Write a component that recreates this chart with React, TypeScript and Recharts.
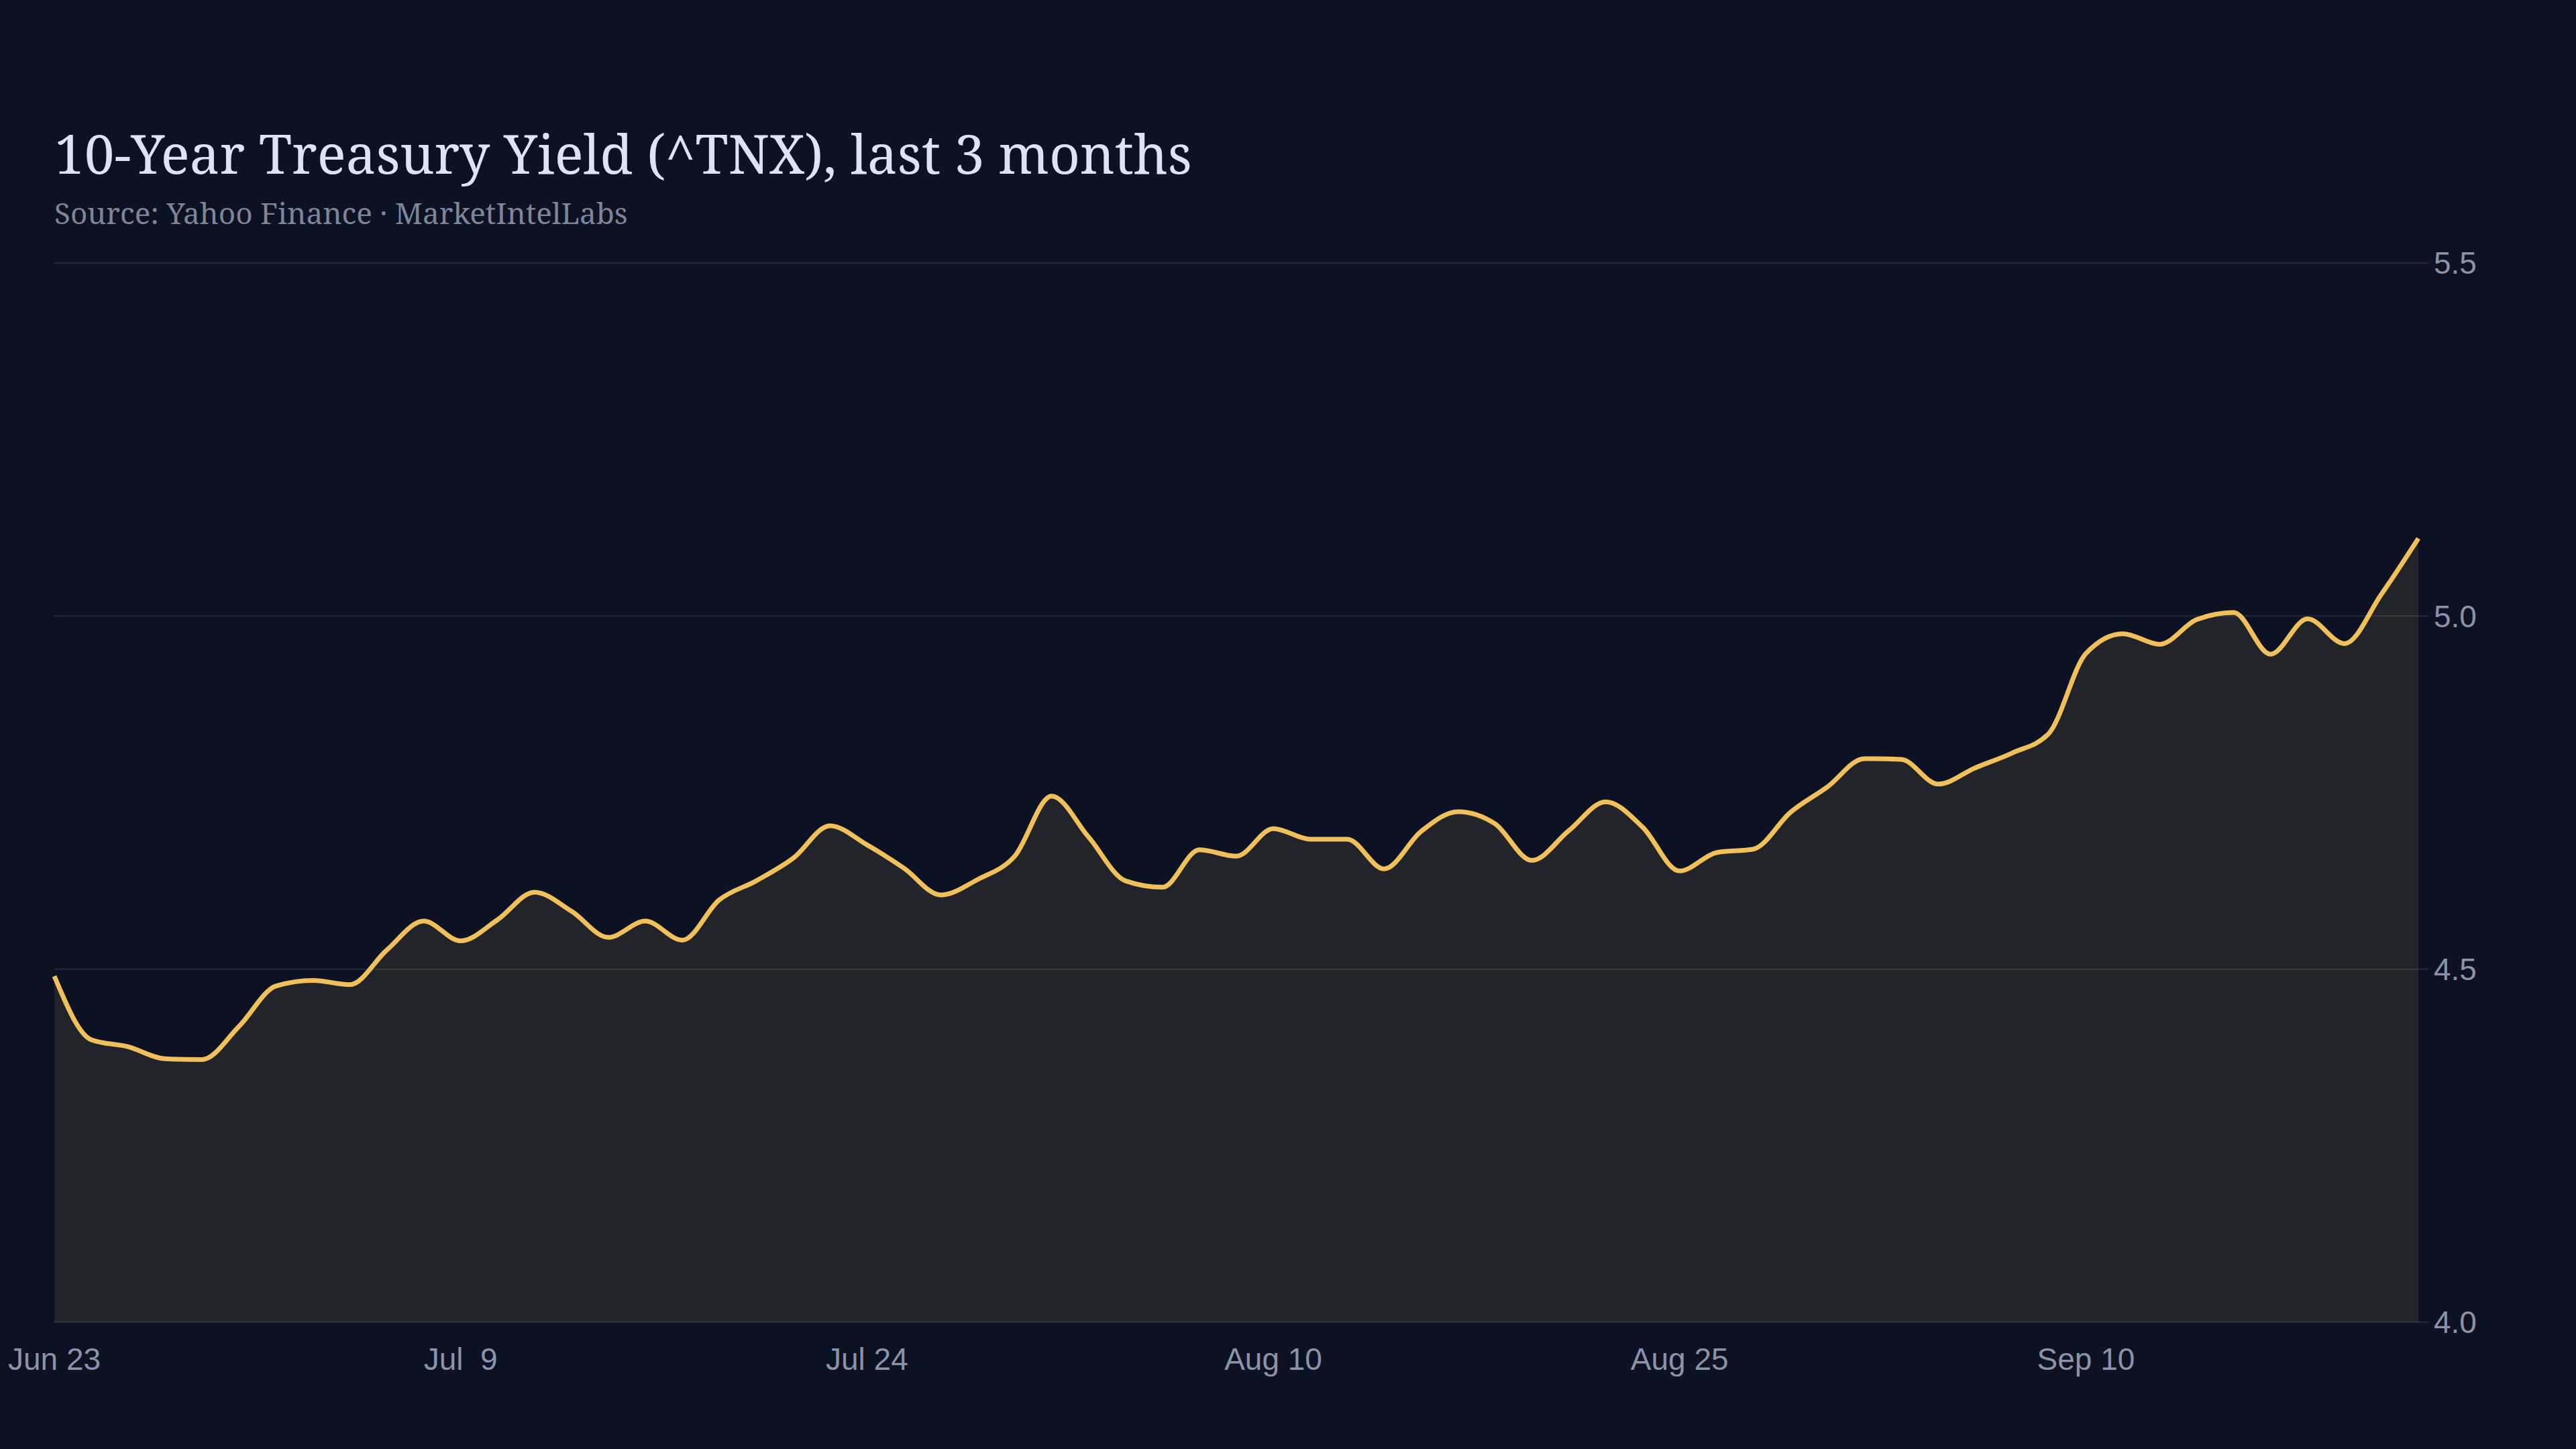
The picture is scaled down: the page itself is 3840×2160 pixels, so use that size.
import React from 'react';
import { AreaChart, Area, XAxis, YAxis, CartesianGrid } from 'recharts';

const dates: string[] = [
  'Jun 23', 'Jun 24', 'Jun 25', 'Jun 26', 'Jun 27', 'Jun 30', 'Jul  1', 'Jul  2', 'Jul  3', 'Jul  7', 'Jul  8',
  'Jul  9', 'Jul 10', 'Jul 11', 'Jul 14', 'Jul 15', 'Jul 16', 'Jul 17', 'Jul 18', 'Jul 21', 'Jul 22', 'Jul 23',
  'Jul 24', 'Jul 25', 'Jul 28', 'Jul 29', 'Jul 30', 'Jul 31', 'Aug  1', 'Aug  4', 'Aug  5', 'Aug  6', 'Aug  7',
  'Aug 10', 'Aug 11', 'Aug 12', 'Aug 13', 'Aug 14', 'Aug 15', 'Aug 18', 'Aug 19', 'Aug 20', 'Aug 21', 'Aug 22',
  'Aug 25', 'Aug 26', 'Aug 27', 'Aug 28', 'Aug 29', 'Sep  2', 'Sep  3', 'Sep  4', 'Sep  5', 'Sep  8', 'Sep  9',
  'Sep 10', 'Sep 11', 'Sep 12', 'Sep 15', 'Sep 16', 'Sep 17', 'Sep 18', 'Sep 19', 'Sep 22', 'Sep 23',
];

const yields: number[] = [
  4.49, 4.40, 4.39, 4.373, 4.372, 4.419, 4.476, 4.484, 4.478, 4.527, 4.568,
  4.540, 4.570, 4.609, 4.582, 4.545, 4.568, 4.541, 4.598, 4.625, 4.657, 4.703,
  4.676, 4.643, 4.605, 4.627, 4.660, 4.745, 4.687, 4.625, 4.616, 4.669, 4.660,
  4.699, 4.684, 4.684, 4.642, 4.695, 4.723, 4.706, 4.654, 4.696, 4.737, 4.701,
  4.639, 4.665, 4.670, 4.722, 4.758, 4.798, 4.797, 4.762, 4.785, 4.806, 4.834,
  4.947, 4.975, 4.960, 4.995, 5.005, 4.946, 4.996, 4.961, 5.031, 5.110,
];

const xTickLabels: string[] = ['Jun 23', 'Jul  9', 'Jul 24', 'Aug 10', 'Aug 25', 'Sep 10'];
const yTicks: number[] = [4.0, 4.5, 5.0, 5.5];

const titleText = '10-Year Treasury Yield (^TNX), last 3 months';
const subtitleText = 'Source: Yahoo Finance · MarketIntelLabs';

const data = dates.map((d, i) => ({ date: d, yield: yields[i] }));

const BG = '#0c1224';
const LINE = '#f0c05a';
const TICK = '#8b93a8';
const SANS = "'Liberation Sans', Arial, Helvetica, sans-serif";
const SERIF = "'Noto Serif', 'DejaVu Serif', 'Liberation Serif', serif";

const XTick = (props: any) => {
  const { x, y, payload } = props;
  return (
    <text
      x={x}
      y={y}
      dy="0.71em"
      textAnchor="middle"
      fill={TICK}
      fontSize={46}
      fontFamily={SANS}
      style={{ whiteSpace: 'pre' }}
    >
      {payload.value}
    </text>
  );
};

export default function App() {
  return (
    <div
      style={{
        position: 'absolute',
        left: 0,
        top: 0,
        width: 3840,
        height: 2160,
        background: BG,
        overflow: 'hidden',
      }}
    >
      <svg width={3840} height={400} style={{ position: 'absolute', left: 0, top: 0 }}>
        <text x={81} y={259} fontSize={80} fill="#dde3f7" fontFamily={SERIF}>
          {titleText}
        </text>
        <text x={81} y={334} fontSize={44} fill="#7d8599" fontFamily={SERIF}>
          {subtitleText}
        </text>
      </svg>
      <div style={{ position: 'absolute', left: 0, top: 0 }}>
        <AreaChart
          width={3840}
          height={2160}
          data={data}
          margin={{ top: 392, right: 115, bottom: 89, left: 81 }}
        >
          <CartesianGrid vertical={false} stroke="#ffffff" strokeOpacity={0.1} strokeWidth={2} />
          <XAxis
            dataKey="date"
            ticks={xTickLabels}
            interval={0}
            tickLine={false}
            axisLine={false}
            tickSize={30}
            tickMargin={8}
            height={100}
            tick={<XTick />}
          />
          <YAxis
            orientation="right"
            domain={[4, 5.5]}
            ticks={yTicks}
            tickFormatter={(v: number) => v.toFixed(1)}
            axisLine={false}
            tickLine={{ stroke: '#ffffff', strokeOpacity: 0.1, strokeWidth: 2 }}
            tickSize={15}
            tickMargin={8}
            width={120}
            tick={{ fill: TICK, fontSize: 46, fontFamily: SANS }}
          />
          <Area
            type="monotone"
            dataKey="yield"
            stroke={LINE}
            strokeWidth={7}
            fill={LINE}
            fillOpacity={0.1}
            dot={false}
            activeDot={false}
            isAnimationActive={false}
          />
        </AreaChart>
      </div>
    </div>
  );
}
